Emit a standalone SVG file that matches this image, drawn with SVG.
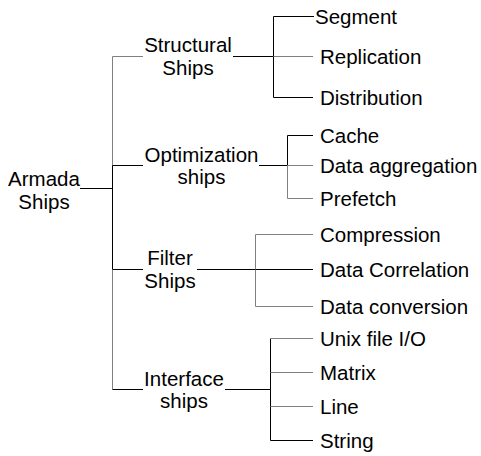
<svg xmlns="http://www.w3.org/2000/svg" width="481" height="456" viewBox="0 0 481 456">
<style>
text{font-family:"Liberation Sans",Arial,sans-serif;font-size:20.5px;fill:#000}
.m{text-anchor:middle}
line{stroke-width:1;fill:none}
.k{stroke:#000}
.g{stroke:#808080}
</style>
<rect width="481" height="456" fill="#fff"/>
<g id="connectors">
<line class="k" x1="80" y1="188.5" x2="112.5" y2="188.5"/>
<line class="g" x1="112.5" y1="56.5" x2="112.5" y2="165.5"/>
<line class="k" x1="112.5" y1="165.5" x2="112.5" y2="269.5"/>
<line class="g" x1="112.5" y1="269.5" x2="112.5" y2="389.5"/>
<line class="g" x1="112.5" y1="56.5" x2="143" y2="56.5"/>
<line class="k" x1="112.5" y1="165.5" x2="143" y2="165.5"/>
<line class="k" x1="112.5" y1="269.5" x2="143" y2="269.5"/>
<line class="k" x1="112.5" y1="389.5" x2="143" y2="389.5"/>
<line class="k" x1="233" y1="56.5" x2="273.5" y2="56.5"/>
<line class="k" x1="273.5" y1="16.5" x2="273.5" y2="97.5"/>
<line class="k" x1="273.5" y1="16.5" x2="314" y2="16.5"/>
<line class="g" x1="273.5" y1="56.5" x2="313" y2="56.5"/>
<line class="k" x1="273.5" y1="97.5" x2="313" y2="97.5"/>
<line class="k" x1="259" y1="165.5" x2="287.5" y2="165.5"/>
<line class="k" x1="287.5" y1="135.5" x2="287.5" y2="165.5"/>
<line class="g" x1="287.5" y1="165.5" x2="287.5" y2="198.5"/>
<line class="k" x1="287.5" y1="135.5" x2="313" y2="135.5"/>
<line class="g" x1="287.5" y1="165.5" x2="313" y2="165.5"/>
<line class="g" x1="287.5" y1="198.5" x2="313" y2="198.5"/>
<line class="k" x1="197" y1="269.5" x2="255.5" y2="269.5"/>
<line class="g" x1="255.5" y1="234.5" x2="255.5" y2="306.5"/>
<line class="g" x1="255.5" y1="234.5" x2="313" y2="234.5"/>
<line class="k" x1="255.5" y1="269.5" x2="313" y2="269.5"/>
<line class="g" x1="255.5" y1="306.5" x2="313" y2="306.5"/>
<line class="k" x1="225" y1="389.5" x2="270.5" y2="389.5"/>
<line class="k" x1="270.5" y1="338.5" x2="270.5" y2="440.5"/>
<line class="g" x1="270.5" y1="338.5" x2="313" y2="338.5"/>
<line class="g" x1="270.5" y1="372.5" x2="313" y2="372.5"/>
<line class="g" x1="270.5" y1="406.5" x2="313" y2="406.5"/>
<line class="k" x1="270.5" y1="440.5" x2="313" y2="440.5"/>
</g>
<g id="armada"><text class="m" x="44" y="186">Armada</text><text class="m" x="44" y="209">Ships</text></g>
<g id="structural"><text class="m" x="188" y="52">Structural</text><text class="m" x="188" y="74.5">Ships</text></g>
<g id="optimization"><text class="m" x="201.5" y="161.5">Optimization</text><text class="m" x="201.5" y="184">ships</text></g>
<g id="filter"><text class="m" x="170" y="265">Filter</text><text class="m" x="170" y="288">Ships</text></g>
<g id="interface"><text class="m" x="184" y="385.5">Interface</text><text class="m" x="184" y="408">ships</text></g>
<g id="segment"><text x="315" y="23.5">Segment</text></g>
<g id="replication"><text x="320" y="63.5">Replication</text></g>
<g id="distribution"><text x="320" y="104.5">Distribution</text></g>
<g id="cache"><text x="320" y="142.5">Cache</text></g>
<g id="data-aggregation"><text x="320" y="172.5">Data aggregation</text></g>
<g id="prefetch"><text x="320" y="205.5">Prefetch</text></g>
<g id="compression"><text x="320" y="241.5">Compression</text></g>
<g id="data-correlation"><text x="320" y="276.5">Data Correlation</text></g>
<g id="data-conversion"><text x="320" y="313.5">Data conversion</text></g>
<g id="unix-file-io"><text x="320" y="345.5">Unix file I/O</text></g>
<g id="matrix"><text x="320" y="379.5">Matrix</text></g>
<g id="line"><text x="320" y="413.5">Line</text></g>
<g id="string"><text x="320" y="447.5">String</text></g>
</svg>
